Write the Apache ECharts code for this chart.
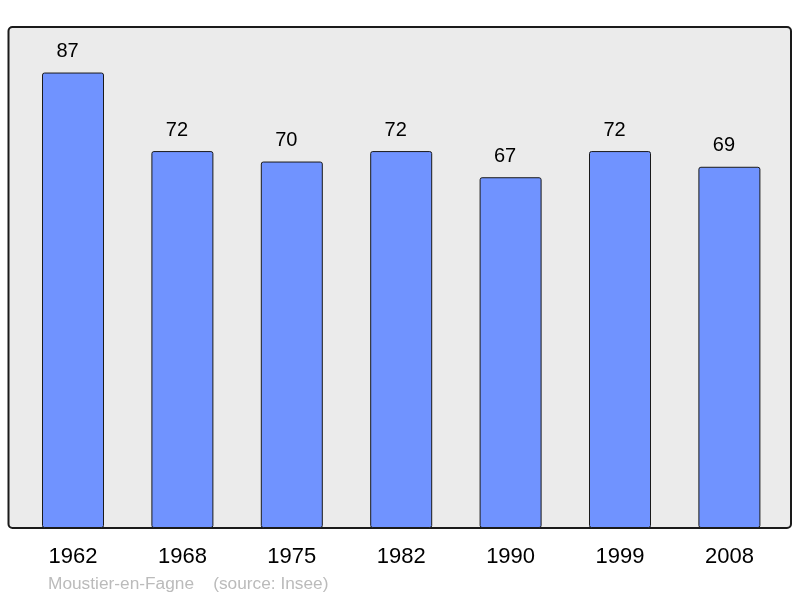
<!DOCTYPE html>
<html><head><meta charset="utf-8">
<script src="https://cdn.jsdelivr.net/npm/echarts@6/dist/echarts.min.js"></script>
<style>html,body{margin:0;padding:0;background:#fff}#c{width:800px;height:598px}</style>
</head><body><div id="c"></div>
<script>
const years = ['1962','1968','1975','1982','1990','1999','2008'];
const population = [87, 72, 70, 72, 67, 72, 69];
const footer = 'Moustier-en-Fagne    (source: Insee)';

const FONT = '"Liberation Sans", Arial, sans-serif';
const chart = echarts.init(document.getElementById('c'), null, {renderer:'canvas'});
chart.setOption({
  animation: false,
  textStyle: {fontFamily: FONT},
  title: {
    text: footer, left: 48, top: 576, padding: 0,
    textStyle: {fontSize: 17.3, fontWeight: 'normal', color: '#bbbbbb', fontFamily: FONT}
  },
  graphic: [{
    type: 'rect', z: -10, silent: true,
    shape: {x: 8.5, y: 27, width: 782.5, height: 501, r: 4},
    style: {fill: '#ebebeb', stroke: '#1a1a1a', lineWidth: 2}
  }],
  grid: {left: 18.3, right: 15.9, top: 27, bottom: 70},
  xAxis: {
    type: 'category', data: years,
    axisLine: {show: false}, axisTick: {show: false},
    axisLabel: {fontSize: 22, color: '#000', margin: 18, fontFamily: FONT}
  },
  yAxis: {type: 'value', min: 0, max: 95.7, show: false, splitLine: {show: false}},
  series: [{
    type: 'bar', data: population, barWidth: 62,
    itemStyle: {color: '#7093ff', borderColor: '#1a1a1a', borderWidth: 1, borderRadius: 2},
    label: {show: true, position: 'top', distance: 11, offset: [-5.5, 0], fontSize: 20, color: '#000', fontFamily: FONT}
  }]
});
</script></body></html>
